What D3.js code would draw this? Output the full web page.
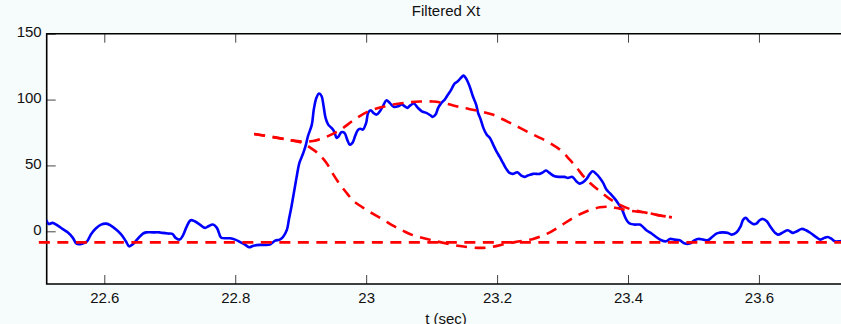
<!DOCTYPE html>
<html>
<head>
<meta charset="utf-8">
<script src="https://cdn.jsdelivr.net/npm/d3@7"></script>
<style>
  html, body { margin: 0; padding: 0; background: #f6fbfb; }
  svg { display: block; }
  text { font-family: "Liberation Sans", Arial, Helvetica, sans-serif; fill: #111; }
</style>
</head>
<body>
<svg id="chart" width="841" height="324"></svg>
<script>
// ---- data ----
const title = "Filtered Xt";
const xLabel = "t (sec)";
const xTicks = [22.6, 22.8, 23, 23.2, 23.4, 23.6];
const yTicks = [0, 50, 100, 150];
const xDomain = [22.512, 23.733];
const yDomain = [-40, 150];

const tBlue = [22.505,22.511,22.515,22.521,22.529,22.536,22.544,22.552,22.558,22.567,22.573,22.580,22.587,22.595,22.603,22.610,22.618,22.626,22.633,22.638,22.644,22.651,22.659,22.664,22.674,22.684,22.689,22.697,22.704,22.709,22.715,22.720,22.726,22.732,22.738,22.746,22.754,22.759,22.766,22.772,22.777,22.779,22.792,22.800,22.807,22.815,22.821,22.828,22.838,22.853,22.861,22.868,22.873,22.879,22.882,22.886,22.890,22.894,22.898,22.904,22.908,22.911,22.917,22.920,22.924,22.928,22.932,22.935,22.938,22.942,22.947,22.951,22.955,22.958,22.962,22.967,22.971,22.975,22.979,22.983,22.987,22.991,22.995,23.000,23.003,23.007,23.011,23.016,23.021,23.026,23.031,23.036,23.042,23.049,23.054,23.059,23.063,23.067,23.073,23.079,23.085,23.092,23.098,23.102,23.106,23.110,23.115,23.120,23.125,23.130,23.135,23.140,23.146,23.149,23.153,23.158,23.163,23.168,23.171,23.175,23.179,23.184,23.189,23.194,23.199,23.204,23.209,23.214,23.219,23.224,23.231,23.237,23.242,23.247,23.255,23.265,23.270,23.275,23.280,23.288,23.296,23.303,23.308,23.315,23.321,23.326,23.331,23.337,23.342,23.346,23.351,23.357,23.362,23.367,23.373,23.380,23.386,23.391,23.395,23.399,23.403,23.410,23.418,23.423,23.428,23.436,23.443,23.451,23.458,23.464,23.471,23.479,23.487,23.494,23.502,23.507,23.515,23.522,23.527,23.535,23.540,23.545,23.553,23.558,23.566,23.572,23.576,23.580,23.585,23.591,23.596,23.601,23.606,23.612,23.617,23.624,23.629,23.637,23.644,23.652,23.658,23.665,23.672,23.680,23.688,23.694,23.700,23.705,23.711,23.716,23.723,23.730];
const vBlue = [10.5,8.4,5.6,6.4,4.3,1.8,-0.8,-5.0,-9.6,-9.3,-8.0,-2.0,2.1,5.1,5.8,4.3,1.3,-2.5,-7.6,-11.4,-9.6,-5.8,-1.7,-0.8,-0.8,-0.8,-1.2,-1.7,-2.0,-5.0,-6.3,-3.3,3.8,8.4,7.6,5.1,2.6,3.8,5.1,2.6,-3.8,-5.0,-5.3,-6.3,-8.0,-10.1,-12.1,-10.9,-10.3,-10.1,-7.1,-6.3,-4.3,1.3,8.9,19.0,30.4,41.8,51.9,59.5,65.8,72.1,81.0,92.4,101.3,104.6,102.5,94.9,86.1,81.0,78.5,75.9,70.9,72.1,75.2,74.7,69.6,65.8,67.1,72.1,76.7,77.8,77.2,82.3,89.9,91.9,89.9,88.6,91.1,95.4,99.5,97.5,94.5,94.9,96.2,94.9,93.7,95.4,97.0,93.7,91.1,89.9,88.1,86.9,88.6,93.7,97.5,100.0,103.8,107.6,112.1,113.9,117.2,118.2,115.7,110.1,102.5,96.2,89.9,84.8,78.5,73.4,70.9,65.8,60.7,56.5,51.9,47.4,44.3,43.6,44.8,42.3,41.3,42.3,43.6,43.6,44.8,46.1,44.3,41.8,41.3,41.3,40.5,41.3,38.0,36.2,37.2,40.0,43.8,45.6,43.8,40.5,36.7,31.7,28.6,24.6,20.3,16.5,11.4,7.6,5.8,5.1,5.1,3.3,0.8,-1.7,-4.3,-6.8,-7.6,-5.8,-6.3,-6.8,-9.3,-9.3,-6.8,-5.8,-6.3,-6.7,-5.0,-1.7,-1.0,-0.8,-1.2,-2.5,-0.8,3.8,8.9,10.2,7.6,5.6,5.8,8.4,9.4,7.6,3.8,-0.8,-2.5,-0.8,0.8,-1.2,0,1.8,0.8,-1.7,-4.6,-6.3,-5.0,-4.3,-5.8,-7.6,-7.6,-7.0];

const tUpper = [22.829,22.858,22.884,22.903,22.919,22.940,22.960,22.980,23.001,23.021,23.041,23.062,23.082,23.102,23.122,23.143,23.174,23.193,23.215,23.235,23.255,23.276,23.296,23.311,23.322,23.331,23.342,23.357,23.372,23.387,23.403,23.429,23.448,23.467];
const vUpper = [73.8,71.5,69.2,68.1,68.5,71.9,76.8,84.1,90.5,93.9,96.2,97.7,98.5,98.5,97.0,94.3,91.1,88.6,83.5,78.5,73.4,68.3,62.0,54.4,48.1,42.3,36.7,30.4,24.6,20.3,16.9,14.0,12.1,10.6];

const tLower = [22.829,22.858,22.884,22.903,22.919,22.929,22.940,22.949,22.960,22.971,22.980,22.995,23.010,23.026,23.041,23.056,23.071,23.093,23.113,23.143,23.174,23.193,23.215,23.235,23.255,23.276,23.296,23.316,23.337,23.357,23.372,23.387,23.403,23.429,23.448,23.467];
const vLower = [73.8,71.5,69.2,67.0,62.0,57.9,51.4,43.8,35.5,28.6,23.3,18.0,13.4,8.9,4.3,0.5,-2.9,-5.9,-8.2,-11.2,-12.6,-11.8,-9.3,-7.6,-5.8,-2.0,3.8,10.2,15.2,18.2,18.5,17.2,15.7,14.0,12.1,10.6];

const tBaseline = [22.5, 23.75];
const vBaseline = [-8.4, -8.4];

// ---- layout ----
const svg = d3.select("#chart");
const mLeft = 46.7, mTop = 33.7, mRight = 846, mBottom = 284;

const x = d3.scaleLinear().domain(xDomain).range([mLeft, mRight]);
const y = d3.scaleLinear().domain(yDomain).range([mBottom, mTop]);

// plot area
svg.append("rect").attr("x", mLeft).attr("y", mTop)
  .attr("width", mRight - mLeft).attr("height", mBottom - mTop)
  .attr("fill", "#ffffff");

svg.append("defs").append("clipPath").attr("id", "clip")
  .append("rect").attr("x", mLeft).attr("y", mTop)
  .attr("width", mRight - mLeft).attr("height", mBottom - mTop);

// axes
const tickStyle = g => {
  g.select(".domain").remove();
  g.selectAll(".tick line").attr("stroke", "#444").attr("stroke-width", 1);
  g.selectAll(".tick text").attr("font-size", 15).attr("fill", "#111")
    .attr("font-family", '"Liberation Sans", Arial, sans-serif');
};

svg.append("g").attr("transform", `translate(0,${mBottom})`)
  .call(d3.axisBottom(x).tickValues(xTicks).tickFormat(d3.format("~g"))
        .tickSizeInner(-9).tickSizeOuter(0).tickPadding(8.7))
  .call(tickStyle);

svg.append("g").attr("transform", `translate(0,${mTop})`)
  .call(d3.axisTop(x).tickValues(xTicks).tickFormat("")
        .tickSizeInner(-9).tickSizeOuter(0))
  .call(tickStyle);

svg.append("g").attr("transform", `translate(${mLeft},0)`)
  .call(d3.axisLeft(y).tickValues(yTicks).tickFormat(d3.format("d"))
        .tickSizeInner(-9).tickSizeOuter(0).tickPadding(5))
  .call(tickStyle)
  .call(g => g.selectAll(".tick text").attr("dy", "0.2em"));

// frame
svg.append("path")
  .attr("d", `M${mRight},${mTop}H${mLeft}V${mBottom}H${mRight}`)
  .attr("fill", "none").attr("stroke", "#000").attr("stroke-width", 1.6);

// lines
const line = d3.line().x(d => x(d[0])).y(d => y(d[1])).curve(d3.curveCatmullRom.alpha(0.5));
const zip = (a, b) => a.map((t, i) => [t, b[i]]);

svg.append("path").datum(zip(tBlue, vBlue))
  .attr("clip-path", "url(#clip)")
  .attr("d", line).attr("fill", "none")
  .attr("stroke", "#0000ff").attr("stroke-width", 2.6)
  .attr("stroke-linejoin", "round");

const dashed = (data) => svg.append("path").datum(data)
  .attr("d", line).attr("fill", "none")
  .attr("stroke", "#ff0000").attr("stroke-width", 2.6)
  .attr("stroke-dasharray", "11,7.5");

dashed(zip(tBaseline, vBaseline));
dashed(zip(tUpper, vUpper));
dashed(zip(tLower, vLower));

// texts
svg.append("text").attr("x", 446).attr("y", 16).attr("text-anchor", "middle")
  .attr("font-size", 15).text(title);
svg.append("text").attr("x", 446).attr("y", 323.7).attr("text-anchor", "middle")
  .attr("font-size", 15).text(xLabel);
</script>
</body>
</html>
